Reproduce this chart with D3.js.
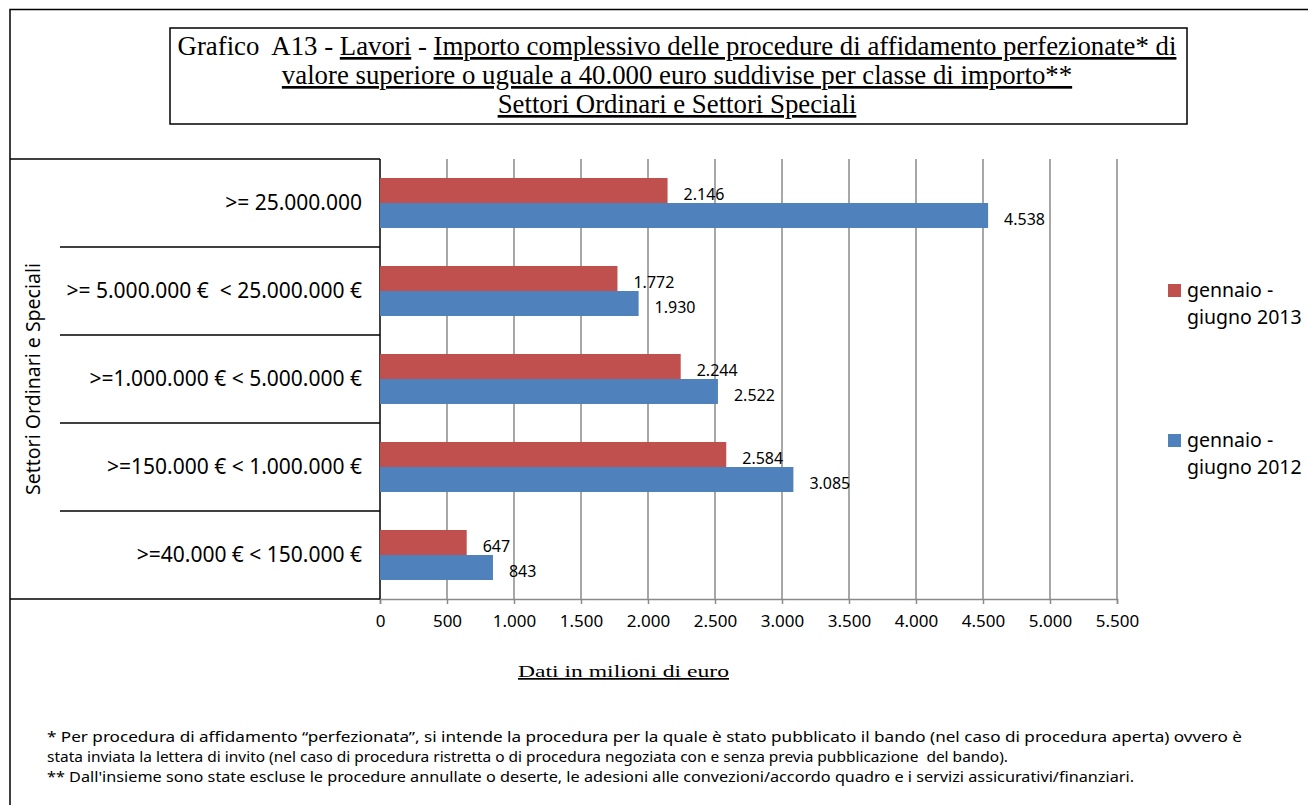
<!DOCTYPE html>
<html><head><meta charset="utf-8">
<script src="https://cdn.jsdelivr.net/npm/d3@7"></script>
<style>
body{margin:0;background:#fff;}
svg{display:block;}
text{white-space:pre;}
</style></head>
<body><svg id="c" width="1308" height="805"></svg>
<script>
const categories = [">= 25.000.000", ">= 5.000.000 €  < 25.000.000 €", ">=1.000.000 € < 5.000.000 €", ">=150.000 € < 1.000.000 €", ">=40.000 € < 150.000 €"];
const seriesNames = ["gennaio - giugno 2013", "gennaio - giugno 2012"];
const values2013 = [2146, 1772, 2244, 2584, 647];
const values2012 = [4538, 1930, 2522, 3085, 843];
const tickValues = [0, 500, 1000, 1500, 2000, 2500, 3000, 3500, 4000, 4500, 5000, 5500];
const colors = ["#C0504D", "#4F81BD"];
const legendLines = [["gennaio -", "giugno 2013"], ["gennaio -", "giugno 2012"]];
const footnotes = [
 "* Per procedura di affidamento \u201cperfezionata\u201d, si intende la procedura per la quale è stato pubblicato il bando (nel caso di procedura aperta) ovvero è",
 "stata inviata la lettera di invito (nel caso di procedura ristretta o di procedura negoziata con e senza previa pubblicazione  del bando).",
 "** Dall'insieme sono state escluse le procedure annullate o deserte, le adesioni alle convezioni/accordo quadro e i servizi assicurativi/finanziari."
];

const it = d3.formatLocale({decimal: ",", thousands: ".", grouping: [3], currency: ["€", ""]});
const fmt = it.format(",d");

const svg = d3.select("#c");
const sans = "'Noto Sans', 'Open Sans', sans-serif";
const serif = "'Liberation Serif', 'Times New Roman', serif";

// outer frame
svg.append("path").attr("d", "M10,805 V9.5 H1308").attr("fill", "none").attr("stroke", "#000").attr("stroke-width", 1.5);

// title box
svg.append("rect").attr("x", 170).attr("y", 28).attr("width", 1017).attr("height", 96)
  .attr("fill", "none").attr("stroke", "#000").attr("stroke-width", 1.5);
const tcx = 677;
const t1 = svg.append("text").attr("x", tcx).attr("y", 55).attr("text-anchor", "middle")
  .attr("font-family", serif).attr("font-size", 26.8);
t1.append("tspan").text("Grafico  A13 - ");
t1.append("tspan").attr("text-decoration", "underline").text("Lavori");
t1.append("tspan").text(" - ");
t1.append("tspan").attr("text-decoration", "underline").text("Importo complessivo delle procedure di affidamento perfezionate* di");
svg.append("text").attr("x", tcx).attr("y", 84).attr("text-anchor", "middle")
  .attr("font-family", serif).attr("font-size", 26.8).attr("text-decoration", "underline")
  .text("valore superiore o uguale a 40.000 euro suddivise per classe di importo**");
svg.append("text").attr("x", tcx).attr("y", 113).attr("text-anchor", "middle")
  .attr("font-family", serif).attr("font-size", 26.8).attr("text-decoration", "underline")
  .text("Settori Ordinari e Settori Speciali");

// scales
const x0 = 380, x1 = 1117, yTop = 159, yBot = 599;
const x = d3.scaleLinear().domain([0, 5500]).range([x0, x1]);
const y = d3.scaleBand().domain(categories).range([yTop, yBot]).paddingInner(0.432).paddingOuter(0.216);
const ys = d3.scaleBand().domain(seriesNames).range([0, y.bandwidth()]);

// gridlines
svg.append("g").selectAll("line").data(tickValues.slice(1)).join("line")
  .attr("x1", d => x(d)).attr("x2", d => x(d)).attr("y1", yTop).attr("y2", yBot)
  .attr("stroke", "#8a8a8a").attr("stroke-width", 1.5);

// x axis
const xa = svg.append("g").attr("transform", `translate(0,${yBot})`)
  .call(d3.axisBottom(x).tickValues(tickValues).tickFormat(fmt).tickSize(5).tickPadding(11));
xa.select(".domain").attr("stroke", "#8a8a8a").attr("stroke-width", 1.5);
xa.selectAll(".tick line").attr("stroke", "#8a8a8a").attr("stroke-width", 1.5);
xa.selectAll(".tick text").attr("font-family", sans).attr("font-size", 17).attr("fill", "#000");

// category table lines
const bounds = d3.range(categories.length + 1).map(i => yTop + i * y.step());
svg.append("g").selectAll("line").data(bounds).join("line")
  .attr("x1", (d, i) => (i === 0 || i === bounds.length - 1) ? 10 : 60)
  .attr("x2", x0).attr("y1", d => d).attr("y2", d => d)
  .attr("stroke", "#000").attr("stroke-width", 1.5);
svg.append("line").attr("x1", x0).attr("x2", x0).attr("y1", yTop).attr("y2", yBot)
  .attr("stroke", "#000").attr("stroke-width", 1.5);

// category labels
svg.append("g").selectAll("text").data(categories).join("text")
  .attr("x", 362).attr("y", d => y(d) + y.bandwidth() / 2).attr("dy", "0.35em")
  .attr("text-anchor", "end").attr("font-family", sans).attr("font-size", 21)
  .text(d => d);

// y title
svg.append("text").attr("transform", `translate(40,${(yTop + yBot) / 2}) rotate(-90)`)
  .attr("text-anchor", "middle").attr("font-family", sans).attr("font-size", 19.5)
  .text("Settori Ordinari e Speciali");

// bars
const rows = categories.map((c, i) => ({c, vals: [values2013[i], values2012[i]]}));
const g = svg.append("g");
rows.forEach(r => {
  r.vals.forEach((v, k) => {
    const yy = y(r.c) + ys(seriesNames[k]);
    g.append("rect").attr("x", x(0)).attr("y", yy).attr("width", x(v) - x(0)).attr("height", ys.bandwidth())
      .attr("fill", colors[k]);
    g.append("text").attr("x", x(v) + 16).attr("y", yy + ys.bandwidth() / 2 + 4).attr("dy", "0.35em")
      .attr("font-family", sans).attr("font-size", 16).text(fmt(v));
  });
});

// legend
const legY = [290, 440];
legendLines.forEach((ln, k) => {
  svg.append("rect").attr("x", 1168).attr("y", legY[k] - 6).attr("width", 13).attr("height", 13).attr("fill", colors[k]);
  ln.forEach((t, j) => {
    svg.append("text").attr("x", 1187).attr("y", legY[k] + j * 27).attr("dy", "0.35em")
      .attr("font-family", sans).attr("font-size", 19.5).text(t);
  });
});

// x title
svg.append("text").attr("x", 518).attr("y", 677)
  .attr("font-family", serif).attr("font-size", 17).attr("text-decoration", "underline")
  .attr("textLength", 211).attr("lengthAdjust", "spacingAndGlyphs")
  .text("Dati in milioni di euro");

// footnotes
const fnW = [1195, 961, 1087];
footnotes.forEach((t, i) => {
  svg.append("text").attr("x", 47).attr("y", 742 + i * 20)
    .attr("font-family", sans).attr("font-size", 14)
    .attr("textLength", fnW[i]).attr("lengthAdjust", "spacingAndGlyphs").text(t);
});
</script></body></html>
